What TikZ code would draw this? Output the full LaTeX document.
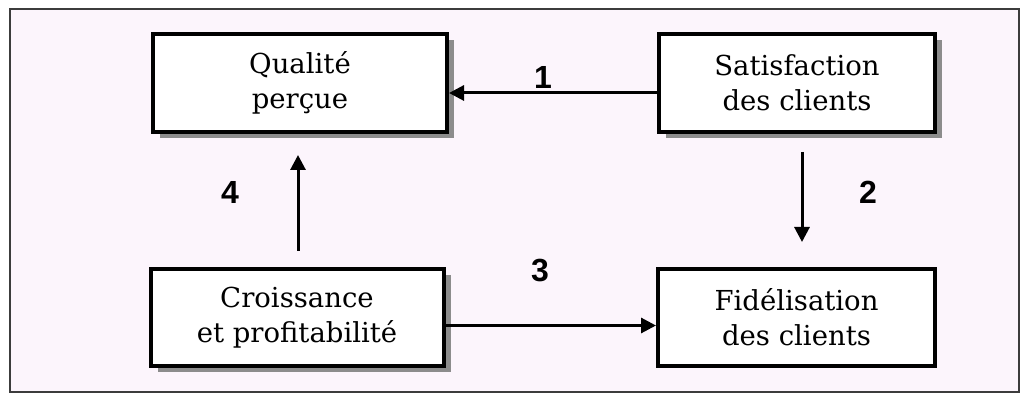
\documentclass[tikz,border=0pt]{standalone}
\usepackage{fontspec}
\setmainfont{DejaVu Serif}
\newfontfamily\labelfont{Liberation Sans}
\usetikzlibrary{arrows.meta,shadows}
\definecolor{bgpink}{RGB}{252,245,252}
\definecolor{framegray}{RGB}{60,60,60}
\tikzset{
  box/.style={draw=black, line width=4pt, fill=white, align=center,
    font=\fontsize{27.5}{35}\selectfont, inner sep=0pt},
  shadowbox/.style={box, drop shadow={shadow xshift=7pt, shadow yshift=-6pt, fill=gray!90, opacity=1}},
  arr/.style={line width=3pt, -{Triangle[length=15pt,width=15pt]}},
  num/.style={font=\labelfont\bfseries\fontsize{32}{32}\selectfont, inner sep=0pt}
}
\begin{document}
\begin{tikzpicture}[x=1pt,y=-1pt]
\useasboundingbox (0,0) rectangle (1022,395);
\draw[framegray, line width=2pt, fill=bgpink] (10,9) rectangle (1019,392);
\node[shadowbox, minimum width=294pt, minimum height=98pt] (qual) at (300,83) {Qualité\\perçue};
\node[shadowbox, minimum width=276pt, minimum height=98pt] (sat) at (797,83) {Satisfaction\\des clients};
\node[shadowbox, minimum width=293pt, minimum height=97pt] (crois) at (297,317.5) {Croissance\\et profitabilité};
\node[box, minimum width=277pt, minimum height=97pt] (fid) at (796.5,317.5) {Fidélisation\\des clients};
\draw[arr] ([yshift=-10pt]sat.west) -- ([yshift=-10pt]sat.west -| qual.east);
\draw[arr, shorten <=18pt, shorten >=25pt] ([xshift=5pt]sat.south) -- ([xshift=5pt]sat.south |- fid.north);
\draw[arr] ([yshift=-8pt]crois.east) -- ([yshift=-8pt]crois.east -| fid.west);
\draw[arr, shorten <=16pt, shorten >=21pt] ([xshift=1pt]crois.north) -- ([xshift=1pt]crois.north |- qual.south);
\node[num] (n1) at (543,77.5) {1};
\node[num] (n2) at (868,192) {2};
\node[num] (n3) at (540,271) {3};
\node[num] (n4) at (230,192) {4};
\end{tikzpicture}
\end{document}
